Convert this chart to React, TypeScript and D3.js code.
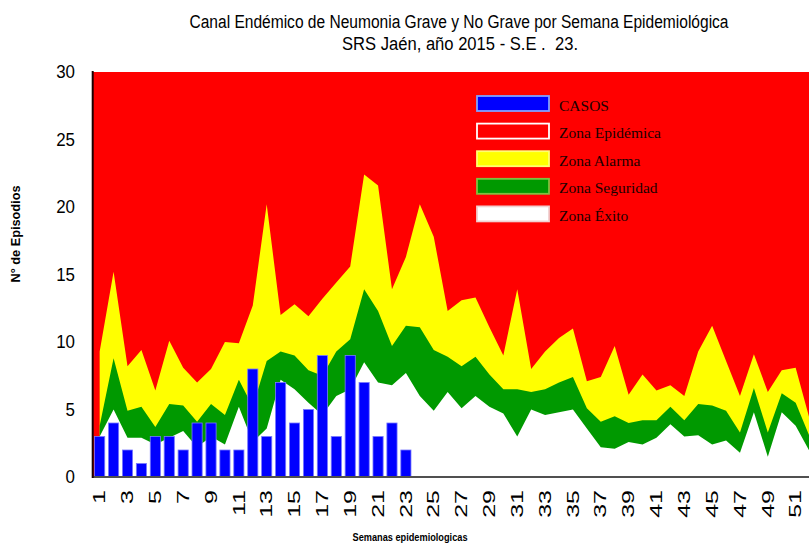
import { scaleBand, scaleLinear, area, range } from "d3";

const svgWidth = 809;
const svgHeight = 544;
const margin = { top: 72, left: 92.7, bottom: 67 };
const bandStep = 13.92;

const titleLine1 =
  "Canal Endémico de Neumonia Grave y No Grave por Semana Epidemiológica";
const titleLine2 = "SRS Jaén, año 2015 - S.E .  23.";
const yAxisTitle = "N° de Episodios";
const xAxisTitle = "Semanas epidemiologicas";

// semanas 1..52
const weeks = range(1, 53);
const yTicks = [0, 5, 10, 15, 20, 25, 30];

// casos notificados (hasta S.E. 23)
const casos = [3, 4, 2, 1, 3, 3, 2, 4, 4, 2, 2, 8, 3, 7, 4, 5, 9, 3, 9, 7, 3, 4, 2];

// limite superior zona alarma
const zonaAlarma = [
  9.3, 15.2, 8.2, 9.4, 6.4, 10.1, 8.1, 7.0, 8.0, 10.0, 9.9, 12.7, 20.2, 12.0,
  12.8, 11.9, 13.2, 14.4, 15.6, 22.4, 21.6, 13.9, 16.3, 20.2, 17.8, 12.3, 13.1,
  13.3, 11.1, 9.0, 13.9, 8.0, 9.3, 10.3, 11.0, 7.1, 7.4, 9.7, 6.1, 7.6, 6.4,
  6.8, 6.0, 9.3, 11.2, 8.6, 6.0, 9.1, 6.3, 7.9, 8.1, 4.3,
];

// limite superior zona seguridad
const zonaSeguridad = [
  3.8, 8.8, 4.9, 5.2, 3.7, 5.4, 5.3, 4.1, 5.4, 4.6, 7.2, 5.2, 8.6, 9.3, 9.0,
  7.9, 7.5, 9.3, 10.2, 13.9, 12.3, 9.7, 11.2, 11.1, 9.4, 8.9, 8.2, 8.9, 7.6,
  6.5, 6.5, 6.3, 6.5, 7.0, 7.4, 5.1, 4.1, 4.5, 4.0, 4.2, 4.2, 5.2, 4.2, 5.4,
  5.3, 4.9, 3.3, 6.6, 3.3, 6.2, 5.5, 3.0,
];

// limite superior zona exito
const zonaExito = [
  3.0, 5.0, 2.9, 2.9, 2.4, 2.9, 3.4, 2.2, 3.0, 2.4, 5.2, 2.6, 3.6, 7.2, 6.5,
  5.5, 4.6, 6.0, 6.5, 8.5, 7.0, 6.8, 7.7, 6.0, 4.9, 6.3, 5.1, 6.0, 5.2, 4.7,
  3.0, 5.0, 4.6, 4.8, 5.0, 3.6, 2.2, 2.1, 2.6, 2.4, 2.9, 3.9, 3.0, 3.1, 2.4,
  2.7, 1.8, 4.8, 1.5, 4.8, 3.8, 1.9,
];

const legendItems = [
  { label: "CASOS", fill: "#0000ff", stroke: "#80a0ff" },
  { label: "Zona Epidémica", fill: "#ff0000", stroke: "#ffffff" },
  { label: "Zona Alarma", fill: "#ffff00", stroke: "#ffff70" },
  { label: "Zona Seguridad", fill: "#009900", stroke: "#80c040" },
  { label: "Zona Éxito", fill: "#ffffff", stroke: "#f0d0d0" },
];

const App = () => {
  const innerWidth = weeks.length * bandStep;
  const innerHeight = svgHeight - margin.top - margin.bottom;

  const xScale = scaleBand()
    .domain(weeks)
    .range([margin.left, margin.left + innerWidth])
    .paddingInner(0.27)
    .paddingOuter(0.135);
  const yScale = scaleLinear()
    .domain([0, 30])
    .range([margin.top + innerHeight, margin.top]);

  const xCenter = (w) => xScale(w) + xScale.bandwidth() / 2;

  const areaGenerator = area()
    .x((d, i) => xCenter(weeks[i]))
    .y0(yScale(0))
    .y1((d) => yScale(d));

  const y0 = yScale(0);

  return (
    <svg
      width={svgWidth}
      height={svgHeight}
      style={{ position: "absolute", left: 0, top: 0, background: "#fff" }}
      fontFamily="'Liberation Sans', Arial, sans-serif"
    >
      {/* titulo */}
      <text
        x={459}
        y={28}
        fontSize={18}
        textAnchor="middle"
        textLength={539}
        lengthAdjust="spacingAndGlyphs"
      >
        {titleLine1}
      </text>
      <text
        x={460}
        y={50}
        fontSize={18}
        textAnchor="middle"
        textLength={236}
        lengthAdjust="spacingAndGlyphs"
        style={{ whiteSpace: "pre" }}
      >
        {titleLine2}
      </text>

      {/* fondo: zona epidemica */}
      <rect
        x={margin.left}
        y={margin.top}
        width={innerWidth}
        height={innerHeight}
        fill="#ff0000"
      />
      <path d={areaGenerator(zonaAlarma)} fill="#ffff00" />
      <path d={areaGenerator(zonaSeguridad)} fill="#009900" />
      <path d={areaGenerator(zonaExito)} fill="#ffffff" />

      {casos.map((c, i) => (
        <rect
          key={i}
          x={xScale(weeks[i])}
          y={yScale(c)}
          width={xScale.bandwidth()}
          height={y0 - yScale(c)}
          fill="#0000ff"
          stroke="#7878ff"
          strokeWidth={0.8}
        />
      ))}

      {/* ejes */}
      <line
        x1={margin.left}
        x2={svgWidth}
        y1={y0}
        y2={y0}
        stroke="#505050"
        strokeWidth={2}
      />
      <line
        x1={margin.left}
        x2={margin.left}
        y1={margin.top - 1}
        y2={y0 + 1}
        stroke="#1a0000"
        strokeWidth={2}
      />

      {yTicks.map((t) => (
        <text
          key={t}
          transform={`translate(75,${yScale(t)}) scale(0.89,1)`}
          textAnchor="end"
          dominantBaseline="central"
          fontSize={19}
        >
          {t}
        </text>
      ))}

      {weeks
        .filter((w) => w % 2 === 1)
        .map((w) => (
          <text
            key={w}
            transform={`translate(${xCenter(w)},490) scale(0.64,1) rotate(-90)`}
            textAnchor="end"
            dominantBaseline="central"
            fontSize={25}
          >
            {w}
          </text>
        ))}

      <text
        transform="translate(16,234) rotate(-90)"
        textAnchor="middle"
        dominantBaseline="central"
        fontSize={12}
        fontWeight="bold"
        textLength={97}
        lengthAdjust="spacingAndGlyphs"
      >
        {yAxisTitle}
      </text>
      <text
        x={410}
        y={541}
        textAnchor="middle"
        fontSize={10.5}
        fontWeight="bold"
        textLength={115}
        lengthAdjust="spacingAndGlyphs"
      >
        {xAxisTitle}
      </text>

      {/* leyenda */}
      {legendItems.map((item, i) => {
        const top = 96 + i * 27.6;
        return (
          <g key={item.label}>
            <rect
              x={477}
              y={top}
              width={72}
              height={15}
              fill={item.fill}
              stroke={item.stroke}
              strokeWidth={1.8}
            />
            <text
              x={559}
              y={top + 14.5}
              fontFamily="'Liberation Serif', 'Times New Roman', serif"
              fontSize={15.5}
              fill="#1a0000"
            >
              {item.label}
            </text>
          </g>
        );
      })}
    </svg>
  );
};

export default App;
